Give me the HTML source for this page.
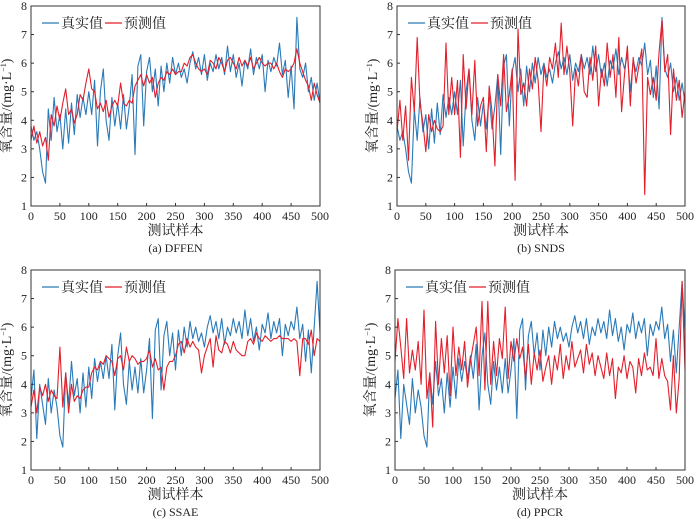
<!DOCTYPE html>
<html><head><meta charset="utf-8">
<style>
html,body{margin:0;padding:0;background:#fff;}
svg{display:block;}
text{font-family:"Liberation Serif","Noto Serif CJK SC",serif;fill:#222;}
</style></head>
<body>
<svg id="chart" width="700" height="523" viewBox="0 0 700 523"></svg>
<script>
const xTicks=[0,50,100,150,200,250,300,350,400,450,500];
const yTicks=[1,2,3,4,5,6,7,8];
const trueAB=[3.8,3.3,3.6,3.0,2.2,1.8,4.4,3.3,4.8,3.6,
4.2,3.0,4.4,3.2,4.6,3.5,4.9,4.1,4.8,4.2,
5.0,4.2,5.4,3.1,5.0,5.8,4.0,3.3,4.8,3.8,
4.6,3.7,4.9,3.7,4.5,5.6,2.8,5.9,6.3,3.8,
5.7,6.2,5.0,5.8,4.5,5.9,5.0,6.0,5.3,6.2,
5.6,6.0,5.5,5.8,5.3,6.0,6.4,5.8,6.2,5.6,
6.3,5.4,6.0,5.7,6.3,5.8,6.2,5.6,6.6,5.7,
6.3,5.5,6.0,5.2,6.1,5.8,6.5,5.6,6.2,5.8,
6.3,5.0,6.1,5.7,6.2,5.9,6.7,5.6,6.1,4.8,
5.9,4.4,7.6,5.8,5.5,6.0,5.0,5.5,4.7,5.3,4.6];
const trueCD=[3.5,4.5,2.1,4.0,3.3,2.6,4.2,3.0,3.8,3.2,
2.2,1.8,4.4,3.3,4.8,3.6,4.2,3.0,4.4,3.2,
4.6,3.5,4.9,4.1,4.8,4.2,5.0,4.2,5.4,3.1,
5.0,5.8,4.0,3.3,4.8,3.8,4.6,3.7,4.9,3.7,
4.5,5.6,2.8,5.9,6.3,3.8,5.7,6.2,5.0,5.8,
4.5,5.9,5.0,6.0,5.3,6.2,5.6,6.0,5.5,5.8,
5.3,6.0,6.4,5.8,6.2,5.6,6.3,5.4,6.0,5.7,
6.3,5.8,6.2,5.6,6.6,5.7,6.3,5.5,6.0,5.2,
6.1,5.8,6.5,5.6,6.2,5.8,6.3,5.0,6.1,5.7,
6.2,5.9,6.7,5.6,6.1,4.8,5.9,4.4,6.0,7.6,5.8];
const predDFFEN=[3.3,3.8,3.2,3.6,3.1,3.4,2.6,4.2,3.8,4.5,
4.0,4.6,5.1,4.2,4.4,3.9,4.2,4.9,4.7,5.3,
5.8,5.1,5.0,4.4,4.6,4.3,4.7,4.1,4.5,4.7,
4.5,5.3,4.6,4.5,4.7,4.6,5.2,5.4,5.6,5.2,
5.6,5.3,5.5,4.8,5.3,5.5,5.4,5.7,5.6,5.8,
5.6,5.7,5.7,6.0,5.9,6.2,6.3,6.0,5.8,5.7,
5.8,5.6,6.1,6.0,5.8,6.2,6.0,5.7,6.1,6.2,
6.0,5.8,6.2,5.9,6.1,5.9,6.2,5.8,6.0,6.2,
6.0,5.9,6.0,6.0,5.8,6.0,5.7,5.5,5.8,5.7,
5.8,6.0,6.5,6.0,5.7,5.4,5.2,4.7,5.3,4.9,4.6];
const predSNDS=[3.6,4.7,3.3,4.5,2.6,5.5,4.3,6.9,4.6,3.9,
2.9,4.2,3.6,4.0,3.7,3.6,3.8,6.7,4.2,5.5,
4.2,5.4,2.7,6.3,4.4,5.8,4.2,6.1,3.8,4.5,
4.8,2.9,5.2,4.3,2.4,5.6,4.5,6.3,4.3,4.9,
5.8,1.9,7.2,4.9,5.3,4.5,5.8,5.1,6.2,5.4,
3.6,5.9,5.2,6.2,5.8,6.7,5.5,7.4,5.6,6.6,
5.7,3.8,5.8,5.2,6.3,5.0,4.8,6.2,5.4,6.6,
4.5,5.8,5.2,6.7,5.5,6.3,4.8,6.9,4.3,5.6,
6.6,4.5,6.2,5.3,5.9,6.5,1.4,5.5,4.9,5.5,
4.7,6.4,7.5,5.7,6.3,3.5,5.8,4.7,5.4,4.1,5.0];
const predSSAE=[3.2,3.8,3.0,3.9,3.6,4.0,3.4,3.8,3.6,3.5,
5.3,3.2,4.4,3.0,4.0,3.4,3.6,3.5,3.8,3.9,
3.9,4.4,4.6,4.5,4.8,4.7,5.0,4.9,4.8,4.3,
4.9,5.0,4.5,5.3,4.8,5.0,4.9,4.7,4.8,4.8,
4.9,5.2,4.6,4.9,4.5,4.6,3.8,4.6,4.8,4.8,
5.0,5.4,5.5,5.1,5.6,5.3,5.5,5.3,5.2,4.4,
5.0,5.3,5.6,4.6,5.7,5.2,5.1,5.5,5.4,5.1,
5.5,5.2,5.1,5.0,5.0,5.5,5.6,5.4,5.8,5.6,
5.5,5.7,5.6,5.5,5.6,5.6,5.7,5.6,5.6,5.6,
5.5,5.6,5.5,4.3,5.6,5.6,5.4,5.9,5.0,5.6,5.5];
const predPPCR=[4.8,6.3,5.3,4.2,6.3,4.4,5.2,4.5,5.5,4.0,
6.6,3.5,4.4,2.5,6.2,4.0,5.6,4.4,5.7,3.6,
6.0,4.3,5.3,4.5,5.5,3.9,4.8,5.4,6.0,4.3,
6.9,3.8,6.9,4.0,5.5,4.3,5.6,4.9,6.7,4.2,
5.5,4.8,5.6,4.9,5.3,4.2,5.4,4.0,5.1,4.5,
5.2,4.1,4.6,5.0,4.0,5.0,4.5,5.4,4.2,5.0,
4.5,5.5,4.6,4.9,5.2,4.4,5.4,4.7,5.1,4.3,
5.0,4.6,4.2,5.1,4.3,4.9,3.5,4.6,4.4,5.0,
4.2,4.8,4.6,3.7,4.9,4.3,5.1,4.5,4.6,4.3,
5.6,4.2,4.9,4.3,4.1,3.1,5.0,3.0,4.2,7.6,4.5];
const STEP=5;

const svg=document.getElementById('chart');
const NS='http://www.w3.org/2000/svg';
function el(tag,attrs,parent){const e=document.createElementNS(NS,tag);for(const k in attrs)e.setAttribute(k,attrs[k]);(parent||svg).appendChild(e);return e;}

const panels=[
 {x0:31,x1:320,y0:206,y1:6,tv:trueAB,pv:predDFFEN,cap:'(a) DFFEN',id:'dffen'},
 {x0:397,x1:685,y0:206,y1:6,tv:trueAB,pv:predSNDS,cap:'(b) SNDS',id:'snds'},
 {x0:31,x1:320,y0:470,y1:270,tv:trueCD,pv:predSSAE,cap:'(c) SSAE',id:'ssae'},
 {x0:395,x1:685,y0:470,y1:270,tv:trueCD,pv:predPPCR,cap:'(d) PPCR',id:'ppcr'}
];
panels.forEach(p=>{
 const g=el('g',{});
 
 
 const sx=v=>p.x0+(v-0)/500*(p.x1-p.x0);
 const sy=v=>p.y0-(v-1)/7*(p.y0-p.y1);
 function series(arr,color,name){
  const d=arr.map((v,i)=>(i?'L':'M')+sx(i*STEP).toFixed(1)+','+sy(v).toFixed(1)).join('');
  const path=el('path',{d:d,fill:'none',stroke:color,'stroke-width':1.1,'stroke-linejoin':'round'},g);
  
  
 }
 series(p.tv,'#2a7ab8','true-value-line');
 series(p.pv,'#e21f2b','predicted-value-line');
 const box=el('rect',{x:p.x0,y:p.y1,width:p.x1-p.x0,height:p.y0-p.y1,fill:'none',stroke:'#333','stroke-width':1},g);
 
 
 xTicks.forEach(t=>{
  el('line',{x1:sx(t),x2:sx(t),y1:p.y0,y2:p.y0-3,stroke:'#333'},g);
  const tx=el('text',{x:sx(t),y:p.y0+14,'text-anchor':'middle','font-size':12},g);
  tx.textContent=t;
  
  
 });
 yTicks.forEach(t=>{
  el('line',{x1:p.x0,x2:p.x0+3,y1:sy(t),y2:sy(t),stroke:'#333'},g);
  const tx=el('text',{x:p.x0-4,y:sy(t)+4,'text-anchor':'end','font-size':12},g);
  tx.textContent=t;
  
  
 });
 const cx=(p.x0+p.x1)/2;
 const xt=el('text',{x:cx,y:p.y0+29,'text-anchor':'middle','font-size':14},g);
 xt.textContent='测试样本';
 
 
 const cap=el('text',{x:cx,y:p.y0+46,'text-anchor':'middle','font-size':12},g);
 cap.textContent=p.cap;
 
 
 const ym=(p.y0+p.y1)/2, yx=p.x0-20;
 const yt=el('text',{x:yx,y:ym,'text-anchor':'middle','font-size':14,transform:'rotate(-90 '+yx+' '+ym+')'},g);
 yt.innerHTML='氧含量/(mg·L<tspan dy="-5" font-size="8">−1</tspan><tspan dy="5">)</tspan>';
 
 
 const ly=p.y1+17, lx=p.x0+11;
 const lg=el('g',{},g);
 
 
 el('line',{x1:lx,x2:lx+17,y1:ly,y2:ly,stroke:'#2a7ab8','stroke-width':1.3},lg);
 const l1=el('text',{x:lx+19,y:ly+5,'font-size':14},lg);
 l1.textContent='真实值';
 
 
 el('line',{x1:lx+63,x2:lx+80,y1:ly,y2:ly,stroke:'#e21f2b','stroke-width':1.3},lg);
 const l2=el('text',{x:lx+82,y:ly+5,'font-size':14},lg);
 l2.textContent='预测值';
 
 
});
</script>
</body></html>
